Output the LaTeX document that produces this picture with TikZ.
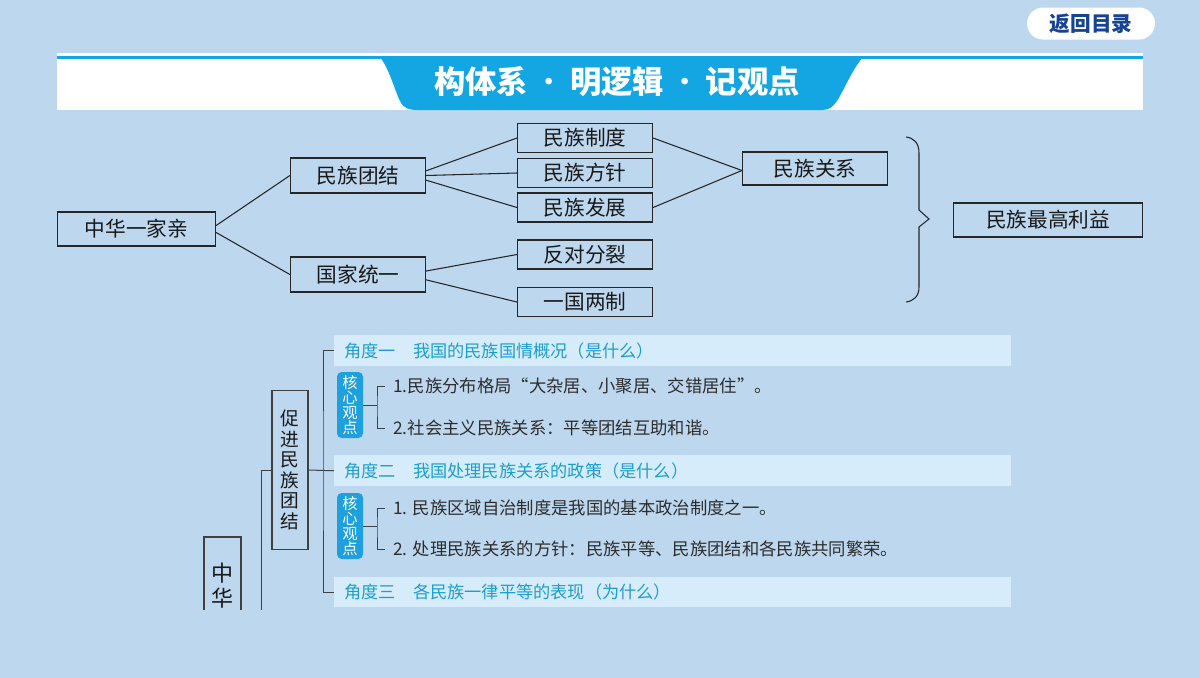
\documentclass[tikz,border=0pt]{standalone}
\usepackage{fontspec}
\setmainfont{Noto Sans CJK SC}
\definecolor{bgc}{RGB}{189,215,238}
\definecolor{barc}{RGB}{215,236,250}
\definecolor{titlec}{RGB}{20,166,226}
\definecolor{badgec}{RGB}{28,160,222}
\definecolor{angc}{RGB}{28,158,206}
\definecolor{btnc}{RGB}{22,68,148}
\definecolor{txtc}{RGB}{45,45,45}
\begin{document}
\begin{tikzpicture}[x=0.75pt,y=-0.75pt,
  box/.style={draw=black!85, line width=0.9pt, fill=bgc, inner sep=0pt,
    font=\fontsize{15.5}{16}\selectfont, text=black!90},
  link/.style={draw=black!85, line width=0.8pt},
  thin/.style={draw=black!75, line width=0.75pt},
  bar/.style={fill=barc, inner xsep=7.5pt, inner ysep=0pt, text width=492.75pt,
    minimum height=23.25pt, align=left, anchor=north west,
    font=\fontsize{12.9}{13}\selectfont, text=angc},
  badge/.style={fill=badgec, rounded corners=3.5pt, inner sep=0pt,
    minimum width=19.5pt, minimum height=49.5pt, align=center, text=white,
    font=\fontsize{11.5}{11.4}\selectfont},
  item/.style={anchor=west, inner sep=0pt, text=txtc,
    font=\fontsize{13}{13}\selectfont},
  vbox/.style={draw=black!75, line width=0.8pt, inner sep=0pt, align=center,
    text=black!90},
]
\fill[bgc] (0,0) rectangle (1200,678);
\useasboundingbox (0,0) rectangle (1200,678);

% header
\fill[white] (57,53) rectangle (1143,110);
\fill[titlec] (57,56) rectangle (1143,59);
\fill[titlec] (380,57) .. controls (390,70) and (395,92) .. (401,103)
  .. controls (404,108) and (409,110) .. (417,110) -- (822,110)
  .. controls (829,110) and (833,107) .. (837,101)
  .. controls (845,88) and (852,70) .. (863,57) -- cycle;
\node[inner sep=0pt, text=white, font=\fontsize{23.5}{24}\selectfont\bfseries] (tt) at (617,82) {构体系{\mdseries\,·\,}明逻辑{\mdseries\,·\,}记观点};

% back button
\node[fill=white, rounded corners=12pt, minimum width=96pt, minimum height=24pt,
  inner sep=0pt, text=btnc, font=\fontsize{15.5}{15.5}\selectfont\bfseries] (back) at (1091,23.5) {返回目录};

% upper tree
\node[box, minimum width=118.5pt, minimum height=25.5pt] (zh) at (136.5,229) {中华一家亲};
\node[box, minimum width=101.25pt, minimum height=26.25pt] (tj) at (358,175.5) {民族团结};
\node[box, minimum width=101.25pt, minimum height=26.25pt] (ty) at (358,274.5) {国家统一};
\node[box, minimum width=101.25pt, minimum height=21.75pt] (zd) at (585,138) {民族制度};
\node[box, minimum width=101.25pt, minimum height=21.75pt] (fz) at (585,173) {民族方针};
\node[box, minimum width=101.25pt, minimum height=21.75pt] (fc) at (585,207.5) {民族发展};
\node[box, minimum width=101.25pt, minimum height=21.75pt] (fd) at (585,254.5) {反对分裂};
\node[box, minimum width=101.25pt, minimum height=21.75pt] (yg) at (585,302) {一国两制};
\node[box, minimum width=108.75pt, minimum height=24.75pt] (gx) at (815,168.5) {民族关系};
\node[box, minimum width=141.75pt, minimum height=25.5pt] (zg) at (1048,220) {民族最高利益};

\draw[link] ([yshift=2.6pt]zh.east) -- (tj.west);
\draw[link] ([yshift=-2.6pt]zh.east) -- (ty.west);
\draw[link] ([yshift=3.5pt]tj.east) -- (zd.west);
\draw[link] (tj.east) -- (fz.west);
\draw[link] ([yshift=-3.5pt]tj.east) -- (fc.west);
\draw[link] ([yshift=2.6pt]ty.east) -- (fd.west);
\draw[link] ([yshift=-4pt]ty.east) -- (yg.west);
\draw[link] (zd.east) -- ([yshift=-1.5pt]gx.west);
\draw[link] (fc.east) -- ([yshift=-1.5pt]gx.west);

% brace
\draw[link] (906,137) .. controls (914,138) and (919,143) .. (919,153)
  -- (919,210) -- (929,219) -- (919,227) -- (919,287)
  .. controls (919,296) and (914,301) .. (906,302);

% lower section
\node[bar] (a1) at (334,335) {角度一\quad 我国的民族国情概况（是什么）};
\node[bar] (a2) at (334,455) {角度二\quad 我国处理民族关系的政策（是什么）};
\node[bar, minimum height=22.5pt] (a3) at (334,577) {角度三\quad 各民族一律平等的表现（为什么）};

\node[badge] (b1) at (350,405) {核\\心\\观\\点};
\node[badge] (b2) at (350,526) {核\\心\\观\\点};

\node[item] (t11) at (393,386) {1.民族分布格局“大杂居、小聚居、交错居住”。};
\node[item] (t12) at (393,428) {2.社会主义民族关系：平等团结互助和谐。};
\node[item] (t21) at (393,508) {1. 民族区域自治制度是我国的基本政治制度之一。};
\node[item] (t22) at (393,549) {2. 处理民族关系的方针：民族平等、民族团结和各民族共同繁荣。};

\coordinate (k1) at (377,405);
\coordinate (k2) at (377,526);
\draw[thin] (b1.east) -- (k1);
\draw[thin] ([xshift=-6pt]t11.west) -| (k1) |- ([xshift=-6pt]t12.west);
\draw[thin] (b2.east) -- (k2);
\draw[thin] ([xshift=-6pt]t21.west) -| (k2) |- ([xshift=-6pt]t22.west);

\node[vbox, minimum width=27pt, minimum height=119.25pt,
  font=\fontsize{14}{15.4}\selectfont] (cj) at (290,470) {促\\进\\民\\族\\团\\结};
\coordinate (j) at (323,470);
\draw[thin] (a1.west) -| (j) |- (a3.west);
\draw[thin] (cj.east) -- (a2.west);

\begin{scope}
\clip (0,0) rectangle (1200,609);
\node[vbox, minimum width=27.75pt, minimum height=72.75pt,
  font=\fontsize{16.5}{18.75}\selectfont] (zhh) at (222.5,585.5) {中\\华};
\coordinate (bot) at (261,612);
\draw[thin] (cj.west) -| (bot);
\end{scope}
\end{tikzpicture}
\end{document}
